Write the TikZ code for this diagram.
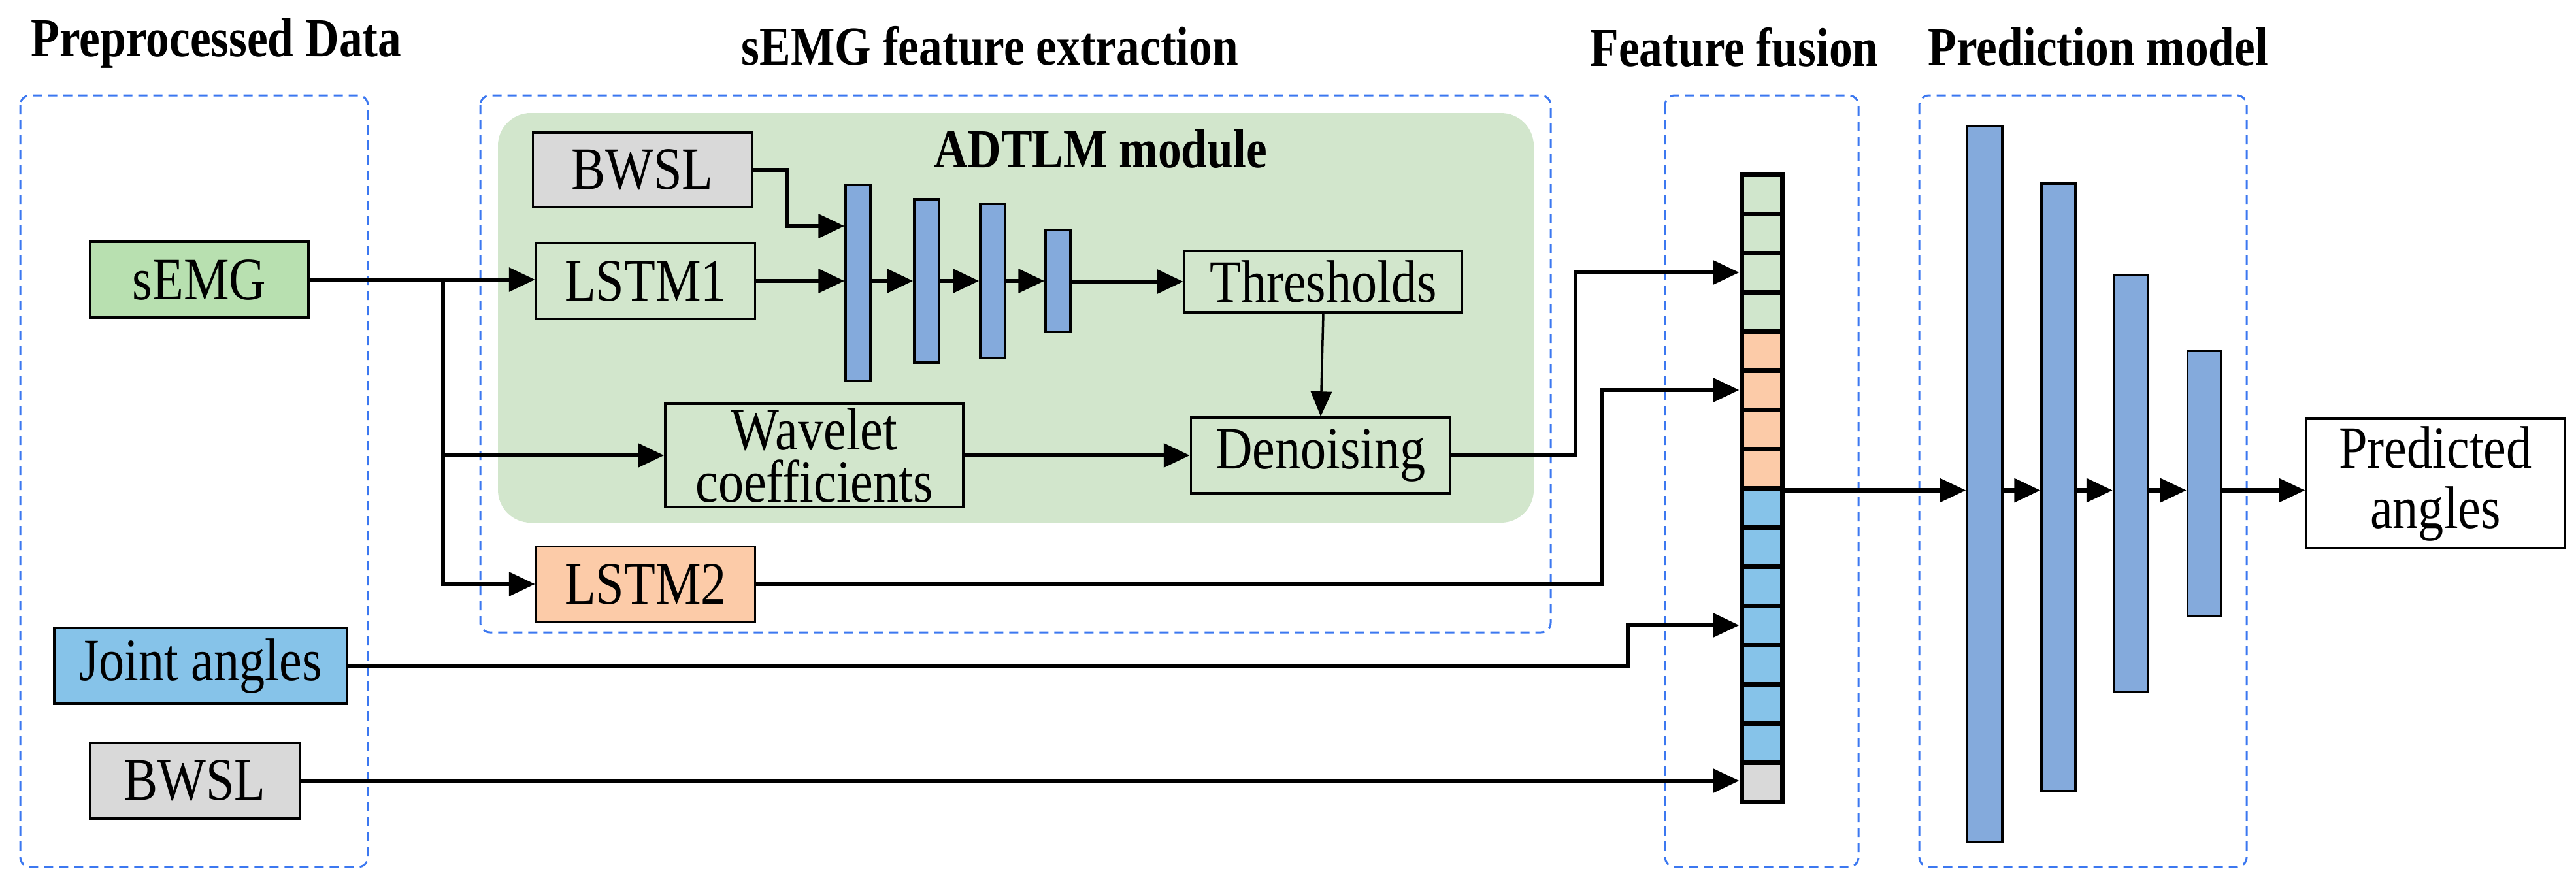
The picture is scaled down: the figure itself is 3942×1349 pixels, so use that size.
\documentclass[tikz,border=0pt]{standalone}
\usepackage{fontspec}
\setmainfont{Liberation Serif}[FakeStretch=0.85]
\usetikzlibrary{arrows.meta,calc}
\definecolor{dblue}{HTML}{3C78F0}
\definecolor{rgreen}{HTML}{D2E6CC}
\definecolor{cgreen}{HTML}{D0E6CC}
\definecolor{sgreen}{HTML}{B8E0B0}
\definecolor{corange}{HTML}{FCCBA8}
\definecolor{cblue}{HTML}{86C3E9}
\definecolor{cgray}{HTML}{D9D9D9}
\definecolor{bblue}{HTML}{84AADC}
\begin{document}
\begin{tikzpicture}[x=1pt,y=-1pt,
  box/.style={draw,line width=3.5pt,inner sep=0pt,font=\fontsize{92}{100}\selectfont,align=center},
  bar/.style={draw,line width=3.5pt,fill=bblue,inner sep=0pt,minimum width=38pt},
  cell/.style={draw,line width=7pt,inner sep=0pt,minimum width=62pt,minimum height=60pt},
  dbox/.style={draw=dblue,line width=3pt,dash pattern=on 14pt off 9pt,rounded corners=15pt},
  title/.style={font=\fontsize{84}{92}\selectfont\bfseries},
  arr/.style={line width=6.5pt,-{Triangle[length=40pt,width=36pt]}},
  ln/.style={line width=6.5pt}]
\useasboundingbox (0,0) rectangle (3942,1349);
% titles
\node[title] (t1) at (331,66) {Preprocessed Data};
\node[title] (t2) at (1515,70) {sEMG feature extraction};
\node[title] (t3) at (2654,72) {Feature fusion};
\node[title] (t4) at (3211,72) {Prediction model};
% dashed boxes
\draw[dbox] (31,146) rectangle (563,1327);
\draw[dbox] (735,146) rectangle (2373,968);
\draw[dbox] (2548,146) rectangle (2844,1327);
\draw[dbox] (2937,146) rectangle (3438,1327);
% green region
\fill[rgreen,rounded corners=50pt] (762,173) rectangle (2347,800);
\node[title] (adt) at (1684,228) {ADTLM module};
% left nodes
\node[box,fill=sgreen,minimum width=334pt,minimum height=116pt] (semg) at (305,428) {sEMG};
\node[box,fill=cblue,minimum width=448pt,minimum height=116pt] (joint) at (307,1019) {Joint angles};
\node[box,fill=cgray,minimum width=321pt,minimum height=116pt] (bw2) at (298,1195) {BWSL};
% ADTLM nodes
\node[box,fill=cgray,minimum width=335pt,minimum height=114pt] (bw1) at (983,260) {BWSL};
\node[box,fill=rgreen,minimum width=335pt,minimum height=117pt] (l1) at (988,430) {LSTM1};
\node[box,fill=corange,minimum width=335pt,minimum height=115pt] (l2) at (988,894) {LSTM2};
\node[box,fill=rgreen,minimum width=425pt,minimum height=94pt] (thr) at (2025,431) {Thresholds};
\node[box,fill=rgreen,minimum width=397pt,minimum height=116pt] (den) at (2021,697) {Denoising};
\node[box,fill=rgreen,minimum width=456pt,minimum height=158pt,font=\fontsize{92}{80}\selectfont] (wav) at (1246,697) {Wavelet\\coefficients};
\node[bar,minimum height=300pt] (b1) at (1313,433) {};
\node[bar,minimum height=250pt] (b2) at (1418,430) {};
\node[bar,minimum height=235pt] (b3) at (1519,430) {};
\node[bar,minimum height=157pt] (b4) at (1619,430) {};
% fusion column
\foreach \i/\c in {1/cgreen,2/cgreen,3/cgreen,4/cgreen,5/corange,6/corange,7/corange,8/corange,9/cblue,10/cblue,11/cblue,12/cblue,13/cblue,14/cblue,15/cblue,16/cgray}
  \node[cell,fill=\c] (c\i) at (2696,{267+60*\i-30}) {};
% prediction bars
\node[bar,minimum width=54pt,minimum height=1095pt] (p1) at (3037,741) {};
\node[bar,minimum width=52pt,minimum height=930pt] (p2) at (3150,746) {};
\node[bar,minimum width=53pt,minimum height=639pt] (p3) at (3261,740) {};
\node[bar,minimum width=51pt,minimum height=406pt] (p4) at (3373,740) {};
\node[box,fill=white,minimum width=396pt,minimum height=198pt,font=\fontsize{92}{92}\selectfont] (pred) at (3727,740) {Predicted\\angles};
% connectors
\coordinate (br) at (678,429);
\draw[arr] (semg.east) -- (semg.east -| l1.west);
\draw[arr] (br) |- (wav.west);
\draw[arr] (br) |- (l2.west);
\coordinate (k) at (1205,346);
\draw[arr] (bw1.east) -| (k) -- (k -| b1.west);
\draw[arr] (l1.east) -- (l1.east -| b1.west);
\draw[arr] (b1.east |- l1.east) -- (l1.east -| b2.west);
\draw[arr] (b2.east |- l1.east) -- (l1.east -| b3.west);
\draw[arr] (b3.east |- l1.east) -- (l1.east -| b4.west);
\draw[arr] (b4.east |- thr.west) -- (thr.west);
\draw[line width=3.5pt,-{Triangle[length=38pt,width=32pt]}] (thr.south) -- (den.north);
\draw[arr] (wav.east) -- (den.west);
\coordinate (v1) at (2411,0);
\coordinate (v2) at (2451,0);
\coordinate (v3) at (2491,0);
\draw[arr] (den.east) -| (v1 |- c3.west) -- (c3.west);
\draw[arr] (l2.east) -| (v2 |- c6.west) -- (c6.west);
\draw[arr] (joint.east) -| (v3 |- c12.west) -- (c12.west);
\draw[arr] (bw2.east) -- (bw2.east -| c16.west);
\coordinate (out) at (c8.south east);
\draw[arr] (out) -- (out -| p1.west);
\draw[arr] (p1.east |- out) -- (out -| p2.west);
\draw[arr] (p2.east |- out) -- (out -| p3.west);
\draw[arr] (p3.east |- out) -- (out -| p4.west);
\draw[arr] (p4.east |- out) -- (out -| pred.west);
\end{tikzpicture}
\end{document}
